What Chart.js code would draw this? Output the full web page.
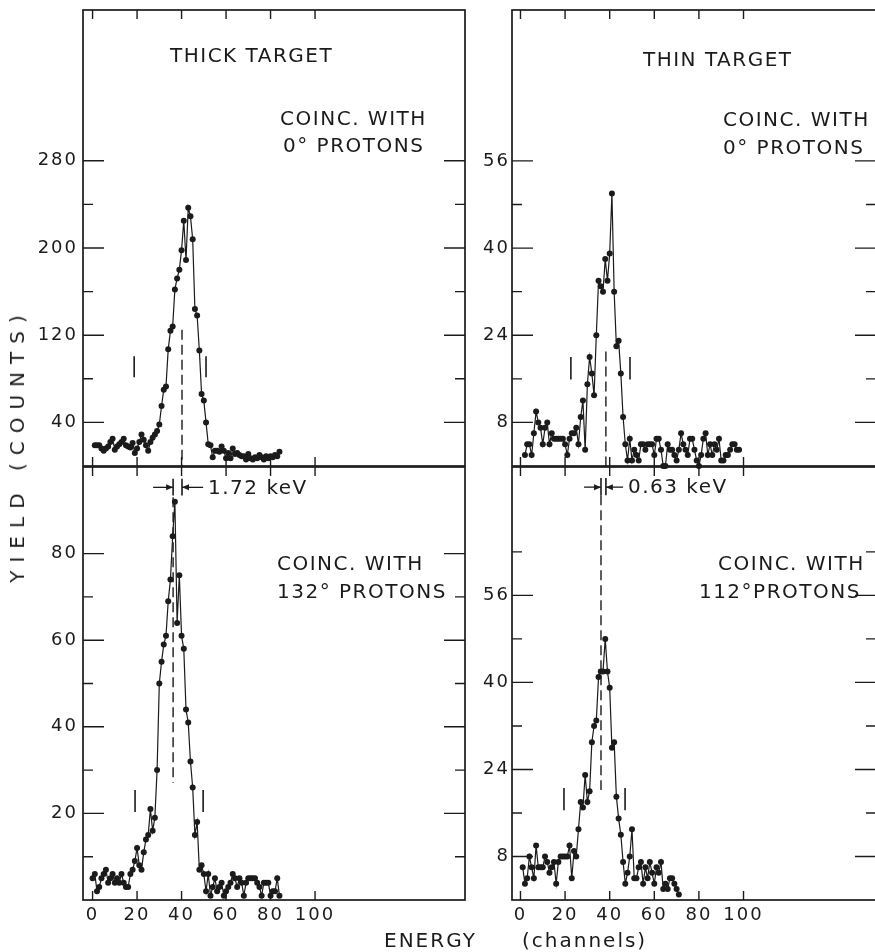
<!DOCTYPE html>
<html>
<head>
<meta charset="utf-8">
<script src="https://cdn.jsdelivr.net/npm/chart.js@4.4.1/dist/chart.umd.min.js"></script>
<style>
  html, body { margin: 0; padding: 0; background: #fff; overflow: hidden; }
  body { position: relative; width: 875px; height: 952px; font-family: "DejaVu Sans", sans-serif; color: #1b1b1b; }
  canvas { position: absolute; }
  .title { position: absolute; font-size: 20px; white-space: nowrap; line-height: 1; }
  #yTitle { left: 17px; top: 445px; letter-spacing: 8px; transform: translate(-50%, -50%) rotate(-90deg); }
  #xEnergy { left: 384px; top: 930px; letter-spacing: 2px; }
  #xChannels { left: 522px; top: 930px; letter-spacing: 2px; }
</style>
</head>
<body>
<canvas id="thick0" width="470" height="470" style="left:0;top:0;width:470px;height:470px"></canvas>
<canvas id="thin0" width="450" height="470" style="left:430px;top:0;width:450px;height:470px"></canvas>
<canvas id="thick132" width="470" height="492" style="left:0;top:460px;width:470px;height:492px"></canvas>
<canvas id="thin112" width="450" height="492" style="left:430px;top:460px;width:450px;height:492px"></canvas>
<div id="yTitle" class="title">YIELD (COUNTS)</div>
<div id="xEnergy" class="title">ENERGY</div>
<div id="xChannels" class="title">(channels)</div>

<script>
const INK = '#1b1b1b';
const FONT = '"DejaVu Sans", "Liberation Sans", sans-serif';

// channel axis, same on all four panels
const channelTicks = [0, 20, 40, 60, 80, 100];

// thick target, coinc. with 0° protons (first point = channel 1)
const thick0Start = 1;
const thick0Counts = [19,19,19,16,14,16,18,22,25,15, 18,20,22,25,19,18,17,21,12,16,
  22,29,24,19,14,22,26,29,32,38, 55,70,73,107,124,128,162,172,180,198,
  225,189,237,229,208,144,138,106,66,60, 40,20,19,
  8,14,14,13,18,14,7,12,7,16,11,12,10,9,9,6,11,7,6,8,7,10,8,6,9,7,9,8,10,9,13];
const thick0Ticks = [40, 80, 120, 160, 200, 240, 280];
const thick0Labels = [40, 120, 200, 280];

// thin target, coinc. with 0° protons (first point = channel 2)
const thin0Start = 2;
const thin0Counts = [2,4,4,2,6,10,8,7,4,7, 8,4,6,5,5,5,5,5,4,2,
  5,6,6,7,4,9,12,3,15,20, 17,13,24,34,33,32,38,34,39,50,
  32,22,23,17,9,4,1,5,1,3, 2,1,
  4,4,3,4,4,4,2,5,5,3,0,0,4,3,3,2,1,3,6,4,3,2,5,5,3,1,0,2,5,6,2,4,2,4,3,5,1,1,2,2,3,4,4,3,3];
const thin0Ticks = [8, 16, 24, 32, 40, 48, 56];
const thin0Labels = [8, 24, 40, 56];

// thick target, coinc. with 132° protons (first point = channel 0)
const thick132Start = 0;
const thick132Counts = [5,6,2,3,5,6,7,4,5,6, 4,5,4,6,4,3,3,6,7,9,
  12,8,7,11,14,15,21,16,19,30, 50,55,59,61,69,74,84,92,64,75,
  61,58,44,41,32,26,15,18,7,8, 6,2,6,1,3,5,2,3,4,1,
  2,3,4,6,5,3,5,4,1,4, 5,5,5,5,4,3,1,4,4,4, 1,2,2,5,1];
const thick132Ticks = [10, 20, 30, 40, 50, 60, 70, 80];
const thick132Labels = [20, 40, 60, 80];

// thin target, coinc. with 112° protons (first point = channel 1)
const thin112Start = 1;
const thin112Counts = [6,3,4,8,6,4,10,6,6,6, 8,7,5,6,7,3,7,8,8,8,
  8,10,4,9,8,13,18,17,23,18, 20,29,32,33,41,42,42,48,42,39,
  28,29,19,15,12,7,3,5,8,13, 4,4,6,7,3,6,4,7,5,3,
  6,5,7,2,3,2,4,4,3,2, 1];
const thin112Ticks = [8, 16, 24, 32, 40, 48, 56, 64];
const thin112Labels = [8, 24, 40, 56];

// inks drawn on every panel: frame, inward ticks, dashed lines, markers, arrows, text
const panelDecor = {
  id: 'panelDecor',
  beforeDraw(chart) {
    chart.ctx.letterSpacing = '2px';
  },
  afterDraw(chart, args, o) {
    const { ctx, chartArea: a, scales: { x, y } } = chart;
    const px = v => x.getPixelForValue(v);
    const py = v => y.getPixelForValue(v);
    ctx.save();
    ctx.strokeStyle = INK;
    ctx.fillStyle = INK;

    ctx.lineWidth = 1.7;
    ctx.strokeRect(a.left, a.top, a.right - a.left, a.bottom - a.top);

    ctx.lineWidth = 1.4;
    ctx.beginPath();
    channelTicks.forEach(c => {
      const X = px(c);
      ctx.moveTo(X, a.bottom); ctx.lineTo(X, a.bottom - 9);
      ctx.moveTo(X, a.top); ctx.lineTo(X, a.top + 9);
    });
    y.ticks.forEach(t => {
      const Y = py(t.value);
      const len = o.major.includes(t.value) ? 21 : 10;
      ctx.moveTo(a.left, Y); ctx.lineTo(a.left + len, Y);
      ctx.moveTo(a.right, Y); ctx.lineTo(a.right - len, Y);
    });
    ctx.stroke();

    // dashed peak line
    ctx.setLineDash([10, 5]);
    ctx.beginPath();
    (o.dashed || []).forEach(d => {
      ctx.moveTo(px(d.x), py(d.from)); ctx.lineTo(px(d.x), py(d.to));
    });
    ctx.stroke();
    ctx.setLineDash([]);

    // short window markers and solid stubs
    ctx.lineWidth = 1.6;
    ctx.beginPath();
    (o.marks || []).forEach(m => {
      ctx.moveTo(px(m.x), py(m.from)); ctx.lineTo(px(m.x), py(m.to));
    });
    ctx.stroke();

    // arrows pointing at the peak lines
    ctx.lineWidth = 1.3;
    (o.arrows || []).forEach(r => {
      const x0 = px(r.from), x1 = px(r.to), Y = py(r.y);
      const dir = Math.sign(x1 - x0);
      ctx.beginPath(); ctx.moveTo(x0, Y); ctx.lineTo(x1, Y); ctx.stroke();
      ctx.beginPath();
      ctx.moveTo(x1, Y); ctx.lineTo(x1 - dir * 7, Y - 3); ctx.lineTo(x1 - dir * 7, Y + 3);
      ctx.closePath(); ctx.fill();
    });

    ctx.font = '20px ' + FONT;
    ctx.letterSpacing = '1.5px';
    ctx.textAlign = 'left';
    ctx.textBaseline = 'middle';
    (o.texts || []).forEach(t => ctx.fillText(t.t, px(t.x), py(t.y)));
    ctx.restore();
  }
};

function points(start, counts) {
  return counts.map((c, i) => ({ x: start + i, y: c }));
}

function yAxis(max, ticks, labels, width, pad) {
  return {
    type: 'linear', min: 0, max,
    grid: { display: false, drawTicks: false },
    border: { display: false },
    afterBuildTicks: s => { s.ticks = ticks.map(v => ({ value: v })); },
    ticks: {
      color: INK, padding: pad, autoSkip: false,
      font: { family: FONT, size: 18 },
      callback: v => labels.includes(v) ? String(v) : ''
    },
    afterFit: s => { s.width = width; s.paddingTop = 0; s.paddingBottom = 0; }
  };
}

function xAxis(min, max, shown) {
  if (!shown) return { type: 'linear', min, max, display: false };
  return {
    type: 'linear', min, max,
    grid: { display: false, drawTicks: false },
    border: { display: false },
    afterBuildTicks: s => { s.ticks = channelTicks.map(v => ({ value: v })); },
    ticks: { color: INK, padding: 5, autoSkip: false, maxRotation: 0, font: { family: FONT, size: 18 } },
    afterFit: s => { s.height = 40; s.paddingLeft = 0; s.paddingRight = 0; }
  };
}

function panel(id, p) {
  return new Chart(document.getElementById(id), {
    type: 'line',
    data: {
      datasets: [{
        data: p.data,
        borderColor: INK,
        borderWidth: 1.2,
        tension: 0,
        pointRadius: 3,
        pointBackgroundColor: INK,
        pointBorderWidth: 0,
        clip: false
      }]
    },
    options: {
      responsive: false,
      animation: false,
      devicePixelRatio: 1,
      layout: { padding: p.padding },
      scales: { x: p.x, y: p.y },
      plugins: {
        legend: { display: false },
        tooltip: { enabled: false },
        panelDecor: p.decor
      }
    },
    plugins: [panelDecor]
  });
}

panel('thick0', {
  data: points(thick0Start, thick0Counts),
  padding: { top: 10, right: 5, bottom: 3, left: 0 },
  x: xAxis(-4.3, 167.4, false),
  y: yAxis(418.3, thick0Ticks, thick0Labels, 83, 5),
  decor: {
    major: thick0Labels,
    dashed: [{ x: 40.2, from: 125, to: 0 }],
    marks: [{ x: 18.7, from: 100.7, to: 81.5 }, { x: 51, from: 100.7, to: 81.5 }],
    texts: [
      { t: 'THICK TARGET', x: 34.8, y: 375 },
      { t: 'COINC. WITH', x: 84.3, y: 317.6 },
      { t: '0° PROTONS', x: 85.6, y: 292.9 }
    ]
  }
});

panel('thin0', {
  data: points(thin0Start, thin0Counts),
  padding: { top: 10, right: 4, bottom: 3, left: 0 },
  x: xAxis(-3.8, 159.4, false),
  y: yAxis(83.7, thin0Ticks, thin0Labels, 82, 2),
  decor: {
    major: thin0Labels,
    dashed: [{ x: 38.3, from: 21, to: 0 }],
    marks: [{ x: 22.6, from: 20, to: 15.9 }, { x: 49.1, from: 20, to: 15.9 }],
    texts: [
      { t: 'THIN TARGET', x: 54.9, y: 74.4 },
      { t: 'COINC. WITH', x: 90.8, y: 63.4 },
      { t: '0° PROTONS', x: 90.8, y: 58.2 }
    ]
  }
});

panel('thick132', {
  data: points(thick132Start, thick132Counts),
  padding: { top: 7, right: 5, bottom: 12, left: 0 },
  x: xAxis(-4.3, 167.4, true),
  y: yAxis(100, thick132Ticks, thick132Labels, 83, 5),
  decor: {
    major: thick132Labels,
    dashed: [{ x: 36.2, from: 93, to: 27 }],
    marks: [
      { x: 19.1, from: 25.4, to: 20.3 }, { x: 49.7, from: 25.4, to: 20.3 },
      { x: 36.2, from: 97.3, to: 93.4 }, { x: 40.2, from: 97.3, to: 93.4 }
    ],
    arrows: [{ from: 27.2, to: 36.2, y: 95.3 }, { from: 49.7, to: 40.2, y: 95.3 }],
    texts: [
      { t: '1.72 keV', x: 51.9, y: 95 },
      { t: 'COINC. WITH', x: 82.9, y: 77.3 },
      { t: '132° PROTONS', x: 82.9, y: 71 }
    ]
  }
});

panel('thin112', {
  data: points(thin112Start, thin112Counts),
  padding: { top: 7, right: 4, bottom: 12, left: 0 },
  x: xAxis(-3.8, 159.4, true),
  y: yAxis(79.6, thin112Ticks, thin112Labels, 82, 2),
  decor: {
    major: thin112Labels,
    dashed: [{ x: 36.1, from: 74.4, to: 20.2 }],
    marks: [
      { x: 19.5, from: 20.6, to: 16.5 }, { x: 46.9, from: 20.6, to: 16.5 },
      { x: 36.1, from: 77.6, to: 74.4 }, { x: 38.3, from: 77.6, to: 74.4 }
    ],
    arrows: [{ from: 28.5, to: 36.1, y: 75.9 }, { from: 46, to: 38.3, y: 75.9 }],
    texts: [
      { t: '0.63 keV', x: 48.2, y: 75.7 },
      { t: 'COINC. WITH', x: 88.6, y: 61.7 },
      { t: '112°PROTONS', x: 80, y: 56.5 }
    ]
  }
});
</script>
</body>
</html>
